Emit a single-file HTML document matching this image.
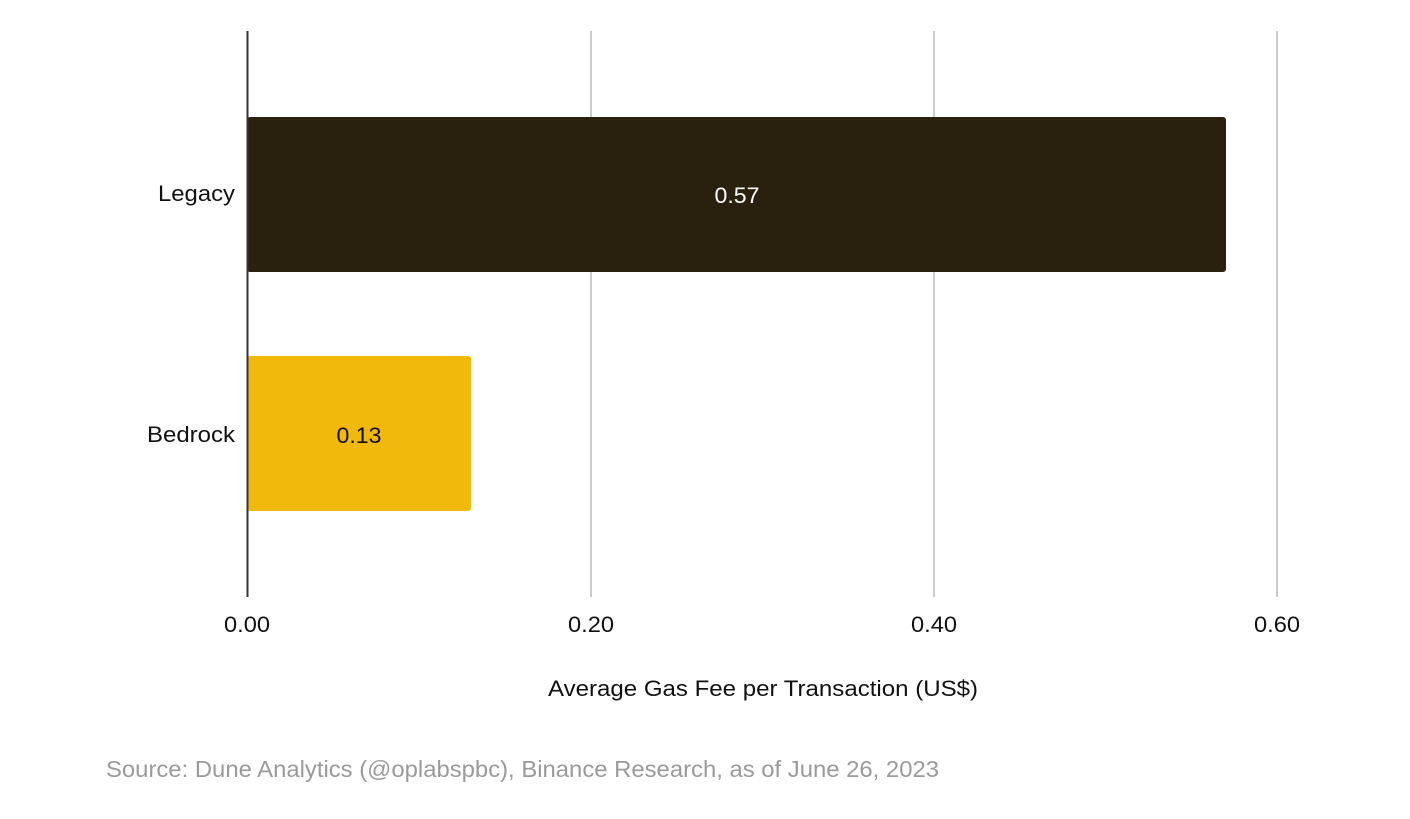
<!DOCTYPE html>
<html><head><style>
body{margin:0;background:#fff;width:1410px;height:814px;overflow:hidden;font-family:"Liberation Sans",sans-serif}
</style></head><body>
<svg width="1410" height="814" xmlns="http://www.w3.org/2000/svg" font-family="Liberation Sans, sans-serif">
<g stroke="#cccccc" stroke-width="2">
<line x1="591" y1="31" x2="591" y2="597"/>
<line x1="934" y1="31" x2="934" y2="597"/>
<line x1="1277" y1="31" x2="1277" y2="597"/>
</g>
<rect x="247" y="117" width="979" height="155" rx="3" fill="#2a200e"/>
<rect x="247" y="356" width="224" height="155" rx="3" fill="#f0b90b"/>
<line x1="247.5" y1="31" x2="247.5" y2="597" stroke="#333" stroke-width="2"/>
<g font-size="22" text-anchor="middle" lengthAdjust="spacingAndGlyphs">
<text x="737" y="203" fill="#fff" textLength="45" lengthAdjust="spacingAndGlyphs">0.57</text>
<text x="359" y="443" fill="#111" textLength="45" lengthAdjust="spacingAndGlyphs">0.13</text>
<text x="247" y="632" fill="#111" textLength="46" lengthAdjust="spacingAndGlyphs">0.00</text>
<text x="591" y="632" fill="#111" textLength="46" lengthAdjust="spacingAndGlyphs">0.20</text>
<text x="934" y="632" fill="#111" textLength="46" lengthAdjust="spacingAndGlyphs">0.40</text>
<text x="1277" y="632" fill="#111" textLength="46" lengthAdjust="spacingAndGlyphs">0.60</text>
<text x="763" y="696" fill="#111" textLength="430" lengthAdjust="spacingAndGlyphs">Average Gas Fee per Transaction (US$)</text>
</g>
<g font-size="22" text-anchor="end" fill="#111">
<text x="235" y="201" textLength="77" lengthAdjust="spacingAndGlyphs">Legacy</text>
<text x="235" y="442" textLength="88" lengthAdjust="spacingAndGlyphs">Bedrock</text>
</g>
<text x="106" y="777" font-size="23" fill="#9a9a9a" textLength="833" lengthAdjust="spacingAndGlyphs">Source: Dune Analytics (@oplabspbc), Binance Research, as of June 26, 2023</text>
</svg>
</body></html>
